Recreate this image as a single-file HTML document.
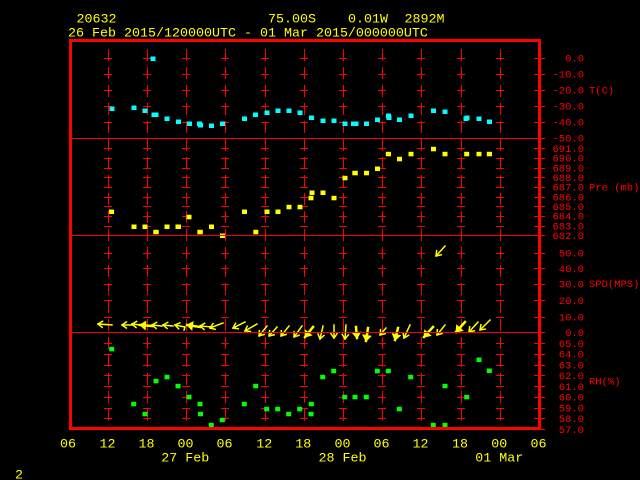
<!DOCTYPE html>
<html><head><meta charset="utf-8"><style>
html,body{margin:0;padding:0;background:#000;width:640px;height:480px;overflow:hidden}
svg{display:block}
text{font-family:"Liberation Mono","DejaVu Sans Mono",monospace}
.t{font-size:13.33px;fill:#ffff00}
.r{font-size:10.5px;fill:#ff0000}
</style></head><body>
<svg width="640" height="480" viewBox="0 0 640 480" xmlns="http://www.w3.org/2000/svg">
<defs>
<marker id="a" viewBox="-1 -5 8 10" markerWidth="8" markerHeight="10" refX="0" refY="0" orient="auto" markerUnits="userSpaceOnUse"><path d="M5,-3.5L0,0L5,3.5" fill="none" stroke="#ff0" stroke-width="1.5"/></marker>
<marker id="b" viewBox="-1 -5 8 10" markerWidth="8" markerHeight="10" refX="0" refY="0" orient="auto" markerUnits="userSpaceOnUse"><path d="M5.5,-4L0,0L5.5,4Z" fill="#ff0" stroke="#ff0" stroke-width="1"/></marker>
</defs>
<rect width="640" height="480" fill="#000"/>

<path d="M108.5 49V424M147.5 49V424M186.5 49V424M225.5 49V424M265.5 49V424M304.5 49V424M343.5 49V424M382.5 49V424M421.5 49V424M461.5 49V424M500.5 49V424" stroke="#f00" stroke-width="1" stroke-dasharray="12 6" fill="none"/>

<g stroke="#f00" stroke-width="1" fill="none">
<path d="M104 58.5h8M104 74.5h8M104 90.5h8M104 106.5h8M104 122.5h8M104 148.5h8M104 158.5h8M104 168.5h8M104 177.5h8M104 187.5h8M104 197.5h8M104 206.5h8M104 216.5h8M104 226.5h8M104 253.5h8M104 268.5h8M104 284.5h8M104 300.5h8M104 317.5h8M104 343.5h8M104 354.5h8M104 365.5h8M104 375.5h8M104 386.5h8M104 397.5h8M104 408.5h8M104 418.5h8"/>
<path transform="translate(39 0)" d="M104 58.5h8M104 74.5h8M104 90.5h8M104 106.5h8M104 122.5h8M104 148.5h8M104 158.5h8M104 168.5h8M104 177.5h8M104 187.5h8M104 197.5h8M104 206.5h8M104 216.5h8M104 226.5h8M104 253.5h8M104 268.5h8M104 284.5h8M104 300.5h8M104 317.5h8M104 343.5h8M104 354.5h8M104 365.5h8M104 375.5h8M104 386.5h8M104 397.5h8M104 408.5h8M104 418.5h8"/>
<path transform="translate(78 0)" d="M104 58.5h8M104 74.5h8M104 90.5h8M104 106.5h8M104 122.5h8M104 148.5h8M104 158.5h8M104 168.5h8M104 177.5h8M104 187.5h8M104 197.5h8M104 206.5h8M104 216.5h8M104 226.5h8M104 253.5h8M104 268.5h8M104 284.5h8M104 300.5h8M104 317.5h8M104 343.5h8M104 354.5h8M104 365.5h8M104 375.5h8M104 386.5h8M104 397.5h8M104 408.5h8M104 418.5h8"/>
<path transform="translate(117 0)" d="M104 58.5h8M104 74.5h8M104 90.5h8M104 106.5h8M104 122.5h8M104 148.5h8M104 158.5h8M104 168.5h8M104 177.5h8M104 187.5h8M104 197.5h8M104 206.5h8M104 216.5h8M104 226.5h8M104 253.5h8M104 268.5h8M104 284.5h8M104 300.5h8M104 317.5h8M104 343.5h8M104 354.5h8M104 365.5h8M104 375.5h8M104 386.5h8M104 397.5h8M104 408.5h8M104 418.5h8"/>
<path transform="translate(157 0)" d="M104 58.5h8M104 74.5h8M104 90.5h8M104 106.5h8M104 122.5h8M104 148.5h8M104 158.5h8M104 168.5h8M104 177.5h8M104 187.5h8M104 197.5h8M104 206.5h8M104 216.5h8M104 226.5h8M104 253.5h8M104 268.5h8M104 284.5h8M104 300.5h8M104 317.5h8M104 343.5h8M104 354.5h8M104 365.5h8M104 375.5h8M104 386.5h8M104 397.5h8M104 408.5h8M104 418.5h8"/>
<path transform="translate(196 0)" d="M104 58.5h8M104 74.5h8M104 90.5h8M104 106.5h8M104 122.5h8M104 148.5h8M104 158.5h8M104 168.5h8M104 177.5h8M104 187.5h8M104 197.5h8M104 206.5h8M104 216.5h8M104 226.5h8M104 253.5h8M104 268.5h8M104 284.5h8M104 300.5h8M104 317.5h8M104 343.5h8M104 354.5h8M104 365.5h8M104 375.5h8M104 386.5h8M104 397.5h8M104 408.5h8M104 418.5h8"/>
<path transform="translate(235 0)" d="M104 58.5h8M104 74.5h8M104 90.5h8M104 106.5h8M104 122.5h8M104 148.5h8M104 158.5h8M104 168.5h8M104 177.5h8M104 187.5h8M104 197.5h8M104 206.5h8M104 216.5h8M104 226.5h8M104 253.5h8M104 268.5h8M104 284.5h8M104 300.5h8M104 317.5h8M104 343.5h8M104 354.5h8M104 365.5h8M104 375.5h8M104 386.5h8M104 397.5h8M104 408.5h8M104 418.5h8"/>
<path transform="translate(274 0)" d="M104 58.5h8M104 74.5h8M104 90.5h8M104 106.5h8M104 122.5h8M104 148.5h8M104 158.5h8M104 168.5h8M104 177.5h8M104 187.5h8M104 197.5h8M104 206.5h8M104 216.5h8M104 226.5h8M104 253.5h8M104 268.5h8M104 284.5h8M104 300.5h8M104 317.5h8M104 343.5h8M104 354.5h8M104 365.5h8M104 375.5h8M104 386.5h8M104 397.5h8M104 408.5h8M104 418.5h8"/>
<path transform="translate(313 0)" d="M104 58.5h8M104 74.5h8M104 90.5h8M104 106.5h8M104 122.5h8M104 148.5h8M104 158.5h8M104 168.5h8M104 177.5h8M104 187.5h8M104 197.5h8M104 206.5h8M104 216.5h8M104 226.5h8M104 253.5h8M104 268.5h8M104 284.5h8M104 300.5h8M104 317.5h8M104 343.5h8M104 354.5h8M104 365.5h8M104 375.5h8M104 386.5h8M104 397.5h8M104 408.5h8M104 418.5h8"/>
<path transform="translate(353 0)" d="M104 58.5h8M104 74.5h8M104 90.5h8M104 106.5h8M104 122.5h8M104 148.5h8M104 158.5h8M104 168.5h8M104 177.5h8M104 187.5h8M104 197.5h8M104 206.5h8M104 216.5h8M104 226.5h8M104 253.5h8M104 268.5h8M104 284.5h8M104 300.5h8M104 317.5h8M104 343.5h8M104 354.5h8M104 365.5h8M104 375.5h8M104 386.5h8M104 397.5h8M104 408.5h8M104 418.5h8"/>
<path transform="translate(392 0)" d="M104 58.5h8M104 74.5h8M104 90.5h8M104 106.5h8M104 122.5h8M104 148.5h8M104 158.5h8M104 168.5h8M104 177.5h8M104 187.5h8M104 197.5h8M104 206.5h8M104 216.5h8M104 226.5h8M104 253.5h8M104 268.5h8M104 284.5h8M104 300.5h8M104 317.5h8M104 343.5h8M104 354.5h8M104 365.5h8M104 375.5h8M104 386.5h8M104 397.5h8M104 408.5h8M104 418.5h8"/>
<path d="M534 58.5H545M534 74.5H545M534 90.5H545M534 106.5H545M534 122.5H545M534 138.5H545M534 148.5H545M534 158.5H545M534 168.5H545M534 177.5H545M534 187.5H545M534 197.5H545M534 206.5H545M534 216.5H545M534 226.5H545M534 235.5H545M534 253.5H545M534 268.5H545M534 284.5H545M534 300.5H545M534 317.5H545M534 332.5H545M534 343.5H545M534 354.5H545M534 365.5H545M534 375.5H545M534 386.5H545M534 397.5H545M534 408.5H545M534 418.5H545M534 429.5H545"/>
</g>

<g fill="#00ffff">
<rect x="150.5" y="56.5" width="5" height="4.5"/>
<rect x="109.5" y="106.5" width="5" height="4.5"/>
<rect x="131.5" y="105.5" width="5" height="4.5"/>
<rect x="142.5" y="108.5" width="5" height="4.5"/>
<rect x="151.5" y="112.5" width="7" height="4.5"/>
<rect x="164.5" y="116.5" width="5" height="4.5"/>
<rect x="176" y="119.5" width="5" height="4.5"/>
<rect x="187" y="121.5" width="5" height="4.5"/>
<rect x="197" y="121.5" width="5" height="4.5"/>
<rect x="198" y="123" width="5" height="4.5"/>
<rect x="209" y="123.5" width="5" height="4.5"/>
<rect x="220" y="121.5" width="5" height="4.5"/>
<rect x="242" y="116.5" width="5" height="4.5"/>
<rect x="253" y="112.5" width="5" height="4.5"/>
<rect x="264.5" y="110.5" width="5" height="4.5"/>
<rect x="275.5" y="108.5" width="5" height="4.5"/>
<rect x="286.5" y="108.5" width="5" height="4.5"/>
<rect x="297.5" y="110.5" width="5" height="4.5"/>
<rect x="309" y="115.5" width="5" height="4.5"/>
<rect x="320.5" y="118.5" width="5" height="4.5"/>
<rect x="331.5" y="118.5" width="5" height="4.5"/>
<rect x="342.5" y="121.5" width="5" height="4.5"/>
<rect x="351" y="121.5" width="7.5" height="4.5"/>
<rect x="364" y="121.5" width="5" height="4.5"/>
<rect x="375" y="117.5" width="5" height="4.5"/>
<rect x="386" y="113.5" width="5" height="4.5"/>
<rect x="386.5" y="115.5" width="5" height="4.5"/>
<rect x="397" y="117.5" width="5" height="4.5"/>
<rect x="408.5" y="113.5" width="5" height="4.5"/>
<rect x="431" y="108.5" width="5" height="4.5"/>
<rect x="442.5" y="109.5" width="5" height="4.5"/>
<rect x="463.5" y="116.5" width="5" height="4.5"/>
<rect x="464.5" y="115.5" width="5" height="4.5"/>
<rect x="476.5" y="116.5" width="5" height="4.5"/>
<rect x="487" y="119.5" width="5" height="4.5"/>
</g>

<g fill="#ffff00">
<rect x="109" y="209.5" width="5" height="4.5"/>
<rect x="131.5" y="224.5" width="5" height="4.5"/>
<rect x="142.5" y="224.5" width="5" height="4.5"/>
<rect x="153.3" y="229.8" width="5.4" height="4.5"/>
<rect x="164.5" y="224.5" width="5" height="4.5"/>
<rect x="175.5" y="224.5" width="5.5" height="4.5"/>
<rect x="186.5" y="214.8" width="5" height="4.5"/>
<rect x="197.3" y="229.8" width="5.5" height="4.5"/>
<rect x="209" y="224.5" width="5" height="4.5"/>
<rect x="220" y="233.5" width="5" height="4.5"/>
<rect x="242" y="209.5" width="5" height="4.5"/>
<rect x="253.3" y="229.8" width="5" height="4.5"/>
<rect x="264.5" y="209.5" width="5" height="4.5"/>
<rect x="275.5" y="209.5" width="5" height="4.5"/>
<rect x="286.5" y="204.8" width="5" height="4.5"/>
<rect x="297.5" y="204.8" width="5" height="4.5"/>
<rect x="308.5" y="195.8" width="5" height="4.5"/>
<rect x="309.5" y="190.5" width="5" height="4.5"/>
<rect x="320.5" y="190.5" width="5" height="4.5"/>
<rect x="331.5" y="195.8" width="5" height="4.5"/>
<rect x="342.5" y="175.8" width="5" height="4.5"/>
<rect x="352.3" y="170.8" width="5.5" height="4.5"/>
<rect x="364" y="170.8" width="5" height="4.5"/>
<rect x="375" y="166.5" width="5" height="4.5"/>
<rect x="385.8" y="151.8" width="5.2" height="4.5"/>
<rect x="397" y="156.8" width="5" height="4.5"/>
<rect x="408.5" y="151.8" width="5" height="4.5"/>
<rect x="431" y="146.8" width="5" height="4.5"/>
<rect x="442.5" y="151.8" width="5" height="4.5"/>
<rect x="464.2" y="151.8" width="5" height="4.5"/>
<rect x="476.5" y="151.8" width="5" height="4.5"/>
<rect x="486.8" y="151.8" width="5.2" height="4.5"/>
</g>

<g fill="#00ff00">
<rect x="109.2" y="346.8" width="5" height="4.5"/>
<rect x="131.2" y="401.8" width="5" height="4.5"/>
<rect x="142.5" y="411.8" width="5" height="4.5"/>
<rect x="153.5" y="378.8" width="5" height="4.5"/>
<rect x="164.5" y="374.8" width="5" height="4.5"/>
<rect x="175.5" y="383.8" width="5" height="4.5"/>
<rect x="186.5" y="394.8" width="5" height="4.5"/>
<rect x="197.5" y="401.8" width="5" height="4.5"/>
<rect x="198" y="411.8" width="5" height="4.5"/>
<rect x="208.8" y="422.8" width="5" height="4.5"/>
<rect x="219.8" y="417.8" width="5" height="4.5"/>
<rect x="241.8" y="401.8" width="5" height="4.5"/>
<rect x="253.2" y="383.8" width="5" height="4.5"/>
<rect x="264.2" y="406.8" width="5" height="4.5"/>
<rect x="275.2" y="406.8" width="5" height="4.5"/>
<rect x="286.2" y="411.8" width="5" height="4.5"/>
<rect x="297.2" y="406.8" width="5" height="4.5"/>
<rect x="308.8" y="401.8" width="5" height="4.5"/>
<rect x="308.5" y="411.8" width="5" height="4.5"/>
<rect x="320.2" y="374.8" width="5" height="4.5"/>
<rect x="331.2" y="368.8" width="5" height="4.5"/>
<rect x="342.2" y="394.8" width="5" height="4.5"/>
<rect x="352.5" y="394.8" width="5" height="4.5"/>
<rect x="363.8" y="394.8" width="5" height="4.5"/>
<rect x="374.8" y="368.8" width="5" height="4.5"/>
<rect x="385.8" y="368.8" width="5" height="4.5"/>
<rect x="396.8" y="406.8" width="5" height="4.5"/>
<rect x="408.2" y="374.8" width="5" height="4.5"/>
<rect x="430.8" y="422.8" width="5" height="4.5"/>
<rect x="442.5" y="383.8" width="5" height="4.5"/>
<rect x="442.5" y="422.8" width="5" height="4.5"/>
<rect x="464.2" y="394.8" width="5" height="4.5"/>
<rect x="476.5" y="357.5" width="5" height="4.5"/>
<rect x="486.8" y="368.5" width="5" height="4.5"/>
</g>

<g stroke="#ffff00" fill="none" stroke-width="1.5" stroke-linecap="square">
<path d="M98 324L112 325" marker-start="url(#a)"/>
<path d="M122 325L132 325" marker-start="url(#a)"/>
<path d="M132 324L141 325" marker-start="url(#a)"/>
<path d="M140 325L152 326" marker-start="url(#b)" stroke-width="2.5"/>
<path d="M152 325L162 326" marker-start="url(#a)"/>
<path d="M163 325L173 326" marker-start="url(#a)"/>
<path d="M175 325L185 327L184 330" marker-start="url(#a)"/>
<path d="M187 325L200 327" marker-start="url(#b)" stroke-width="2.5"/>
<path d="M200 326L212 327" marker-start="url(#a)"/>
<path d="M210 328L223 323" marker-start="url(#a)"/>
<path d="M233 328L245 322" marker-start="url(#a)"/>
<path d="M245 331L257 324" marker-start="url(#a)"/>
<path d="M259 336L267 326" marker-start="url(#a)"/>
<path d="M269 336L277 327" marker-start="url(#a)"/>
<path d="M281 336L289 326" marker-start="url(#a)"/>
<path d="M294 337L302 326" marker-start="url(#a)"/>
<path d="M305 337L313 327" marker-start="url(#b)" stroke-width="2.5"/>
<path d="M320 339L323 326" marker-start="url(#a)"/>
<path d="M334 338L334 325" marker-start="url(#a)"/>
<path d="M345 339L346 325" marker-start="url(#a)"/>
<path d="M357 338L356 327" marker-start="url(#b)" stroke-width="2.5"/>
<path d="M366 341L368 328" marker-start="url(#b)" stroke-width="2.5"/>
<path d="M380 335L386 328" marker-start="url(#a)"/>
<path d="M395 340L398 328" marker-start="url(#b)" stroke-width="2.5"/>
<path d="M404 338L410 325" marker-start="url(#a)"/>
<path d="M424 337L433 327" marker-start="url(#b)" stroke-width="2.5"/>
<path d="M437 335L445 325" marker-start="url(#a)"/>
<path d="M456 332L465 322" marker-start="url(#b)" stroke-width="2.5"/>
<path d="M469 332L478 322" marker-start="url(#a)"/>
<path d="M480 330L490 320" marker-start="url(#a)"/>
<path d="M436 256L445 246" marker-start="url(#a)"/>
</g>

<path d="M70 138.5H538M70 235.5H538M70 332.5H538" stroke="#f00" stroke-width="1" fill="none"/>

<rect x="70.5" y="40.5" width="469" height="388" fill="none" stroke="#f00" stroke-width="3"/>

<text class="t" x="76.5" y="22.6">20632</text>
<text class="t" x="268" y="22.6">75.00S</text>
<text class="t" x="348" y="22.6">0.01W</text>
<text class="t" x="404.5" y="22.6">2892M</text>
<text class="t" x="68" y="36.3">26 Feb 2015/120000UTC - 01 Mar 2015/000000UTC</text>

<g class="r" text-anchor="end">
<text x="584" y="61.7">0.0</text>
<text x="584" y="77.7">-10.0</text>
<text x="584" y="93.7">-20.0</text>
<text x="584" y="109.7">-30.0</text>
<text x="584" y="125.7">-40.0</text>
<text x="584" y="141.7">-50.0</text>
<text x="584" y="152">691.0</text>
<text x="584" y="161.7">690.0</text>
<text x="584" y="171.7">689.0</text>
<text x="584" y="181.2">688.0</text>
<text x="584" y="190.7">687.0</text>
<text x="584" y="200.7">686.0</text>
<text x="584" y="210.2">685.0</text>
<text x="584" y="219.7">684.0</text>
<text x="584" y="229.7">683.0</text>
<text x="584" y="239.2">682.0</text>
<text x="584" y="256.4">50.0</text>
<text x="584" y="272">40.0</text>
<text x="584" y="287.7">30.0</text>
<text x="584" y="304">20.0</text>
<text x="584" y="320.4">10.0</text>
<text x="584" y="336">0.0</text>
<text x="584" y="347">65.0</text>
<text x="584" y="357.7">64.0</text>
<text x="584" y="368.5">63.0</text>
<text x="584" y="379.2">62.0</text>
<text x="584" y="390">61.0</text>
<text x="584" y="400.7">60.0</text>
<text x="584" y="411.5">59.0</text>
<text x="584" y="422.2">58.0</text>
<text x="584" y="433">57.0</text>
</g>
<g class="r">
<text x="589" y="93.7">T(C)</text>
<text x="589" y="190.4">Pre (mb)</text>
<text x="589" y="287">SPD(MPS)</text>
<text x="589" y="384.4">RH(%)</text>
</g>

<g class="t" text-anchor="middle">
<text x="68" y="447.6">06</text>
<text x="107.5" y="447.6">12</text>
<text x="146.5" y="447.6">18</text>
<text x="185.5" y="447.6">00</text>
<text x="224.5" y="447.6">06</text>
<text x="264.3" y="447.6">12</text>
<text x="303.3" y="447.6">18</text>
<text x="342.5" y="447.6">00</text>
<text x="381.5" y="447.6">06</text>
<text x="420.5" y="447.6">12</text>
<text x="460" y="447.6">18</text>
<text x="499.3" y="447.6">00</text>
<text x="538.5" y="447.6">06</text>
<text x="185.3" y="461.3">27 Feb</text>
<text x="342.5" y="461.3">28 Feb</text>
<text x="499.3" y="461.3">01 Mar</text>
</g>
<text class="t" x="15" y="478.6">2</text>
</svg>
</body></html>
